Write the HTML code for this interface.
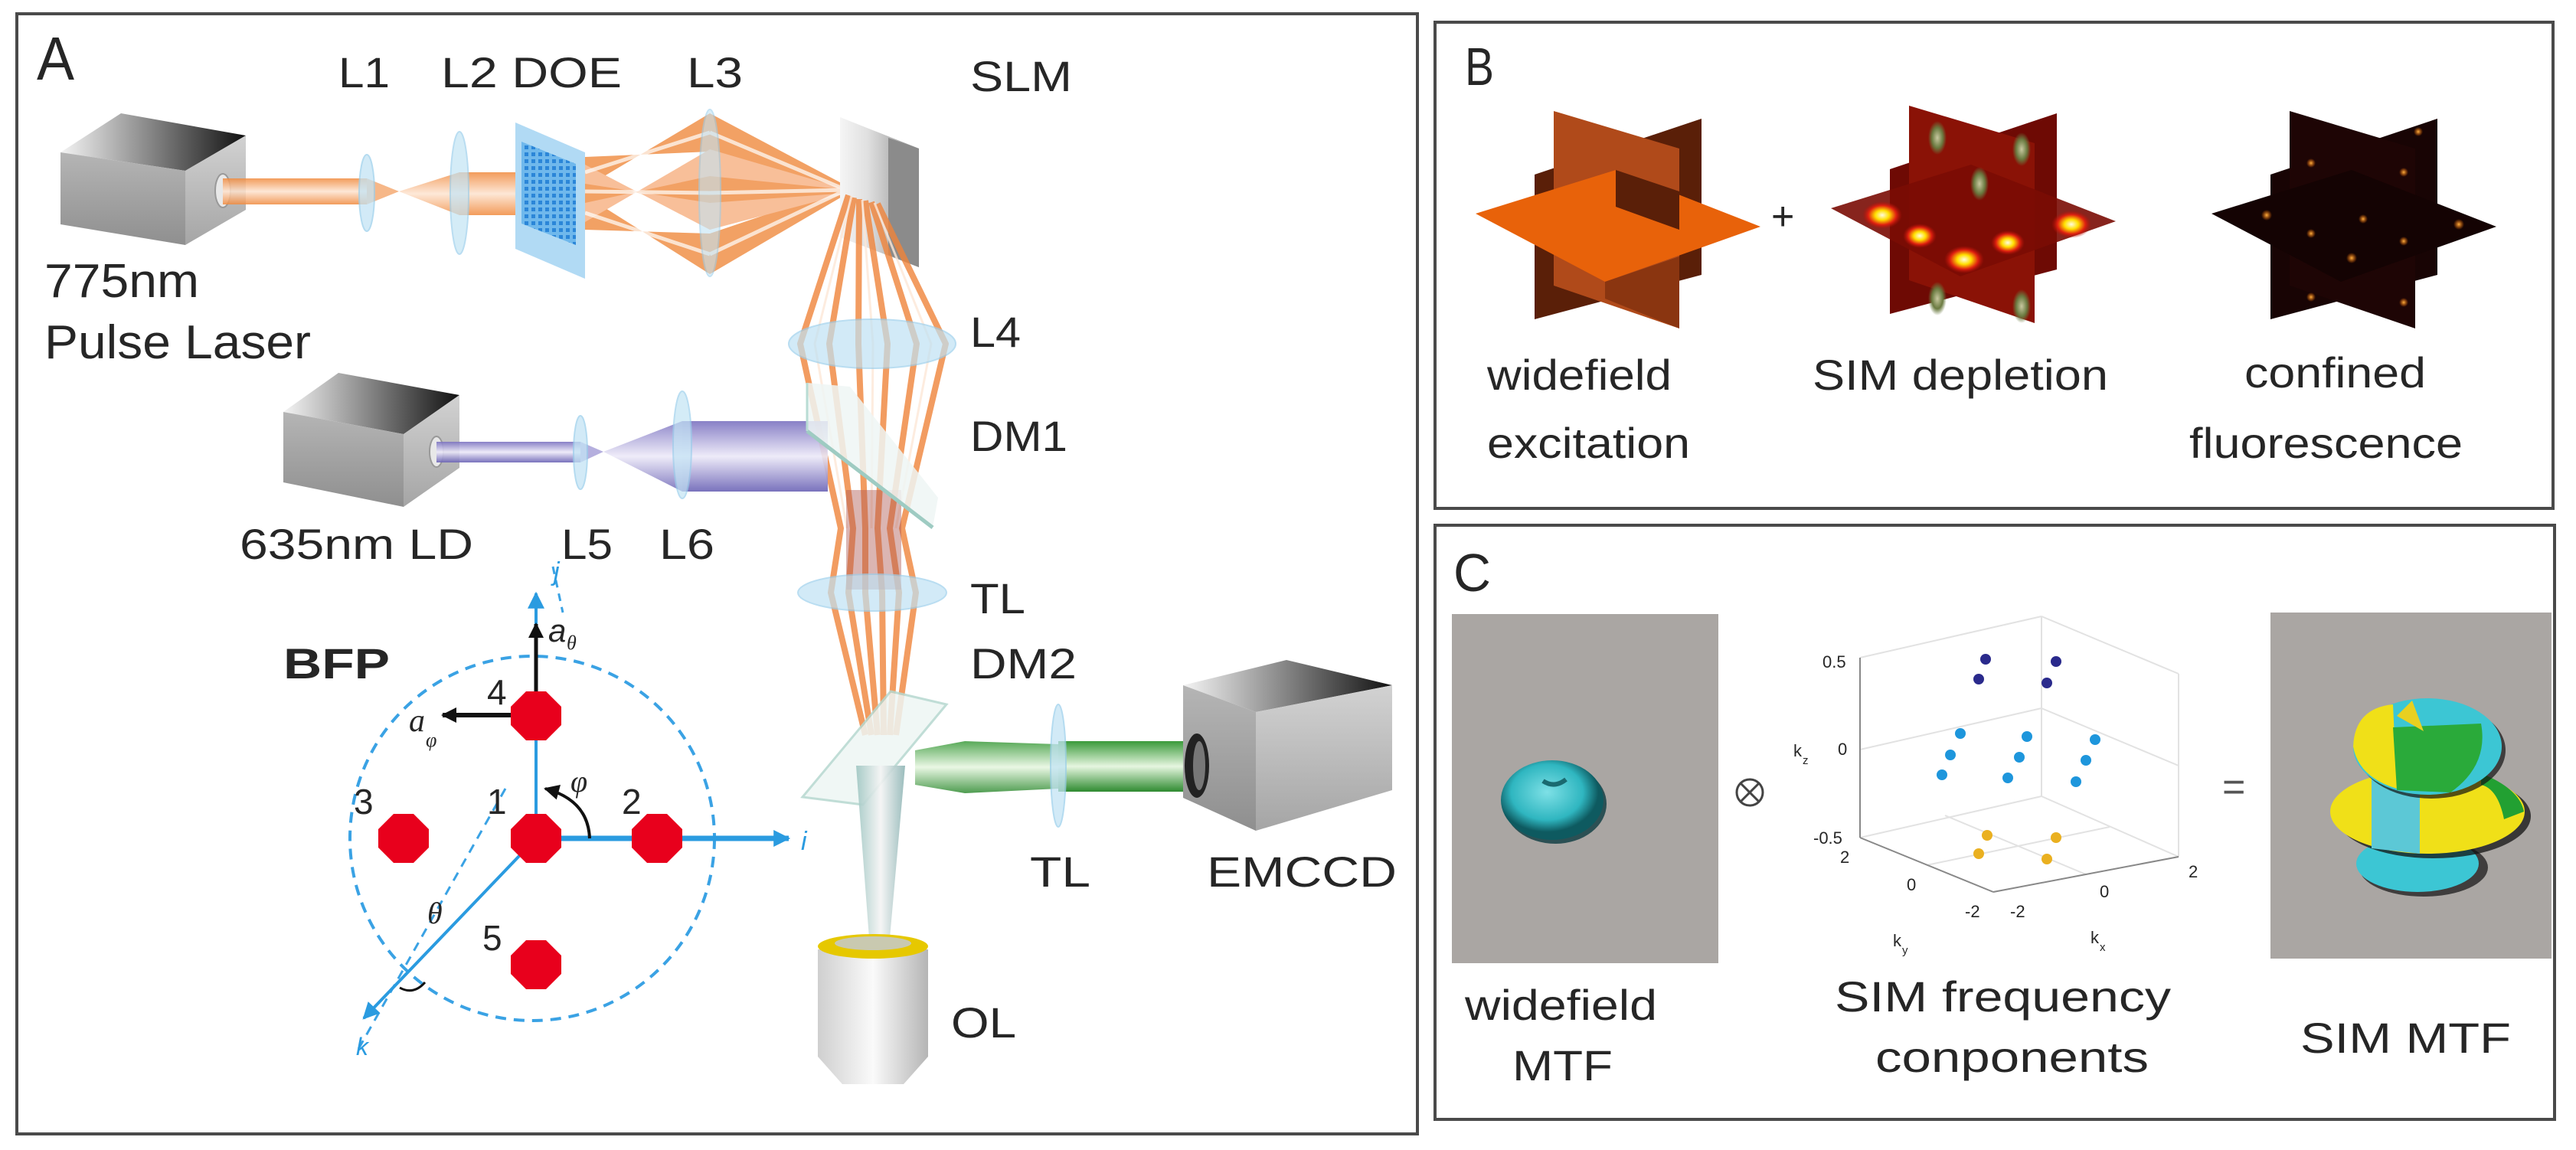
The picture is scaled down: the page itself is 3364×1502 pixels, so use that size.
<!DOCTYPE html>
<html><head><meta charset="utf-8"><style>
html,body{margin:0;padding:0;background:#fff;}
svg{display:block;}
text{font-family:"Liberation Sans",sans-serif;fill:#262626;}
</style></head><body>
<svg width="3364" height="1502" viewBox="0 0 3364 1502" xmlns="http://www.w3.org/2000/svg">
<defs>
<linearGradient id="topg" x1="0" y1="0" x2="1" y2="0"><stop offset="0" stop-color="#f4f4f4"/><stop offset="1" stop-color="#111"/></linearGradient>
<linearGradient id="sideL" x1="0" y1="0" x2="0" y2="1"><stop offset="0" stop-color="#b5b5b5"/><stop offset="1" stop-color="#8f8f8f"/></linearGradient>
<linearGradient id="sideR" x1="0" y1="0" x2="0" y2="1"><stop offset="0" stop-color="#d2d2d2"/><stop offset="1" stop-color="#a5a5a5"/></linearGradient>
<linearGradient id="orB" x1="0" y1="0" x2="0" y2="1"><stop offset="0" stop-color="#f08a3e"/><stop offset="0.5" stop-color="#fde3cf"/><stop offset="1" stop-color="#f08a3e"/></linearGradient>
<linearGradient id="puB" x1="0" y1="0" x2="0" y2="1"><stop offset="0" stop-color="#7b72c0"/><stop offset="0.5" stop-color="#ece9f8"/><stop offset="1" stop-color="#6a62b5"/></linearGradient>
<linearGradient id="grB" x1="0" y1="0" x2="0" y2="1"><stop offset="0" stop-color="#3a9a3a"/><stop offset="0.5" stop-color="#e6f6e0"/><stop offset="1" stop-color="#2e8a30"/></linearGradient>
<linearGradient id="olB" x1="0" y1="0" x2="1" y2="0"><stop offset="0" stop-color="#cfcfcf"/><stop offset="0.5" stop-color="#fafafa"/><stop offset="1" stop-color="#b5b5b5"/></linearGradient>
<linearGradient id="objB" x1="0" y1="0" x2="1" y2="0"><stop offset="0" stop-color="#9fc6c2"/><stop offset="0.5" stop-color="#f4f4f4"/><stop offset="1" stop-color="#8fb5b5"/></linearGradient>
<linearGradient id="slmg" x1="0" y1="0" x2="1" y2="0"><stop offset="0" stop-color="#f5f5f5"/><stop offset="0.35" stop-color="#e0e0e0"/><stop offset="1" stop-color="#8a8a8a"/></linearGradient>
<radialGradient id="blob"><stop offset="0" stop-color="#fffbe0"/><stop offset="0.35" stop-color="#ffe000"/><stop offset="0.7" stop-color="#e02010"/><stop offset="1" stop-color="#b01008" stop-opacity="0"/></radialGradient>
<radialGradient id="gblob"><stop offset="0" stop-color="#c8c8a0"/><stop offset="0.6" stop-color="#6a7a40"/><stop offset="1" stop-color="#6a7a40" stop-opacity="0"/></radialGradient>
<radialGradient id="dot3"><stop offset="0" stop-color="#ffb040"/><stop offset="1" stop-color="#ff7000" stop-opacity="0"/></radialGradient>
<radialGradient id="tor" cx="0.45" cy="0.4"><stop offset="0" stop-color="#7ee0e6"/><stop offset="0.7" stop-color="#2fb6c0"/><stop offset="1" stop-color="#0e5a60"/></radialGradient>
<pattern id="grid" width="9" height="9" patternUnits="userSpaceOnUse"><rect width="9" height="9" fill="#6fb8ec"/><rect x="1" y="1" width="5" height="5" fill="#2b86d8"/></pattern>
<marker id="ab" markerWidth="10" markerHeight="10" refX="8" refY="5" orient="auto" markerUnits="userSpaceOnUse" viewBox="0 0 10 10"><path d="M0,0 L10,5 L0,10 Z" fill="#2a9be0"/></marker>
<marker id="abig" viewBox="0 0 10 10" refX="9" refY="5" markerWidth="26" markerHeight="22" orient="auto" markerUnits="userSpaceOnUse"><path d="M0,0 L10,5 L0,10 Z" fill="#2a9be0"/></marker>
<marker id="ak" viewBox="0 0 10 10" refX="9" refY="5" markerWidth="22" markerHeight="20" orient="auto" markerUnits="userSpaceOnUse"><path d="M0,0 L10,5 L0,10 Z" fill="#111"/></marker>
</defs>

<!-- Panel borders -->
<rect x="22" y="18" width="1829" height="1463" fill="none" stroke="#4a4a4a" stroke-width="4"/>
<rect x="1874" y="29" width="1460" height="635" fill="none" stroke="#4a4a4a" stroke-width="4"/>
<rect x="1874" y="686" width="1462" height="776" fill="none" stroke="#4a4a4a" stroke-width="4"/>

<!-- ===== Panel A ===== -->
<text x="48" y="104" font-size="80" textLength="49" lengthAdjust="spacingAndGlyphs">A</text>

<!-- laser cube 1 -->
<polygon points="79,199 158,148 321,177 242,223" fill="url(#topg)"/>
<polygon points="79,199 242,223 242,320 79,293" fill="url(#sideL)"/>
<polygon points="242,223 321,177 321,274 242,320" fill="url(#sideR)"/>
<ellipse cx="291" cy="249" rx="10" ry="22" fill="#e8e8e8" stroke="#999" stroke-width="2"/>

<!-- orange beam first part -->
<rect x="291" y="233" width="188" height="34" fill="url(#orB)" opacity="0.85"/>
<polygon points="479,233 521,250 479,267" fill="#f4a56a" opacity="0.8"/>
<polygon points="521,250 600,225 600,281" fill="url(#orB)" opacity="0.8"/>
<rect x="600" y="225" width="73" height="56" fill="url(#orB)" opacity="0.85"/>

<!-- fan DOE -> L3 -> SLM -->
<g opacity="0.8">
<polygon points="764,205 764,245 927,148 927,198" fill="#f08a3e"/>
<polygon points="764,230 764,270 927,222 927,282" fill="#f08a3e"/>
<polygon points="764,255 764,300 927,305 927,358" fill="#f08a3e"/>
<polygon points="764,215 764,240 927,265 927,300" fill="#f7b080"/>
<polygon points="764,265 764,290 927,195 927,230" fill="#f7b080"/>
<polygon points="927,148 927,198 1108,252 1108,244" fill="#f08a3e"/>
<polygon points="927,222 927,282 1108,252 1108,244" fill="#f08a3e"/>
<polygon points="927,305 927,358 1108,252 1108,244" fill="#f08a3e"/>
<polygon points="927,265 927,300 1108,252" fill="#f7b080"/>
<polygon points="927,195 927,230 1108,248" fill="#f7b080"/>
</g>
<g stroke="#fff" stroke-width="5" opacity="0.7">
<line x1="764" y1="225" x2="927" y2="173"/><line x1="764" y1="250" x2="927" y2="252"/><line x1="764" y1="278" x2="927" y2="332"/>
<line x1="927" y1="173" x2="1105" y2="248"/><line x1="927" y1="252" x2="1105" y2="248"/><line x1="927" y1="332" x2="1105" y2="248"/>
</g>

<!-- DOE -->
<polygon points="673,160 764,199 764,364 673,325" fill="#a9d6f3" opacity="0.9"/>
<polygon points="681,185 752,214 752,320 681,292" fill="url(#grid)"/>

<!-- SLM -->
<polygon points="1097,153 1200,194 1200,349 1097,310" fill="url(#slmg)"/>
<polygon points="1160,180 1200,194 1200,349 1160,333" fill="#8b8b8b"/>

<!-- beams SLM -> L4 -> TL -> DM2 -->
<g fill="none" stroke="#f0843a" stroke-width="8" opacity="0.8" stroke-linejoin="round">
<polyline points="1108,255 1045,449 1098,690 1085,774 1130,960"/>
<polyline points="1115,258 1083,449 1114,690 1108,774 1138,960"/>
<polyline points="1122,260 1121,449 1130,690 1130,774 1146,960"/>
<polyline points="1130,262 1159,449 1146,690 1152,774 1154,960"/>
<polyline points="1138,264 1197,449 1162,690 1174,774 1162,960"/>
<polyline points="1146,266 1235,449 1178,690 1196,774 1170,960"/>
</g>
<g fill="none" stroke="#fde8d8" stroke-width="3" opacity="0.8">
<polyline points="1112,256 1064,449 1106,690"/>
<polyline points="1126,261 1140,449 1138,690"/>
<polyline points="1142,265 1216,449 1170,690"/>
</g>
<rect x="1105" y="640" width="72" height="130" fill="#b05a55" opacity="0.45"/>

<!-- L4 -->
<ellipse cx="1139" cy="449" rx="109" ry="32" fill="#bfe2f4" opacity="0.7" stroke="#9ccfec" stroke-width="2"/>

<!-- cube 2 (635nm LD) -->
<polygon points="370,538 442,487 600,516 527,567" fill="url(#topg)"/>
<polygon points="370,538 527,567 527,662 370,630" fill="url(#sideL)"/>
<polygon points="527,567 600,516 600,611 527,662" fill="url(#sideR)"/>
<ellipse cx="570" cy="590" rx="9" ry="20" fill="#e8e8e8" stroke="#999" stroke-width="2"/>

<!-- purple beam -->
<rect x="570" y="577" width="188" height="27" fill="url(#puB)" opacity="0.9"/>
<polygon points="758,577 788,590 758,604" fill="#a39bd6" opacity="0.8"/>
<polygon points="788,590 891,550 891,642" fill="url(#puB)" opacity="0.85"/>
<rect x="891" y="550" width="190" height="92" fill="url(#puB)" opacity="0.9"/>

<!-- DM1 -->
<polygon points="1054,500 1110,505 1225,650 1218,689 1054,563" fill="#eef6f4" opacity="0.85"/>
<line x1="1054" y1="563" x2="1218" y2="689" stroke="#9ecbc2" stroke-width="5"/>
<line x1="1054" y1="500" x2="1054" y2="563" stroke="#b8dcd4" stroke-width="3"/>

<!-- L5 L6 L1 L2 L3 -->
<ellipse cx="479" cy="252" rx="10" ry="50" fill="#c3e4f5" opacity="0.75" stroke="#9ccfec" stroke-width="2"/>
<ellipse cx="600" cy="252" rx="12" ry="80" fill="#c3e4f5" opacity="0.7" stroke="#9ccfec" stroke-width="2"/>
<ellipse cx="927" cy="252" rx="14" ry="109" fill="#c3e4f5" opacity="0.6" stroke="#9ccfec" stroke-width="2"/>
<ellipse cx="758" cy="591" rx="9" ry="48" fill="#c3e4f5" opacity="0.75" stroke="#9ccfec" stroke-width="2"/>
<ellipse cx="891" cy="581" rx="12" ry="70" fill="#c3e4f5" opacity="0.7" stroke="#9ccfec" stroke-width="2"/>

<!-- TL -->
<ellipse cx="1139" cy="774" rx="97" ry="24" fill="#bfe2f4" opacity="0.7" stroke="#9ccfec" stroke-width="2"/>

<!-- Green beam to EMCCD -->
<polygon points="1195,980 1260,968 1382,972 1382,1030 1260,1036 1195,1025" fill="url(#grB)" opacity="0.85"/>
<rect x="1382" y="968" width="170" height="66" fill="url(#grB)"/>
<ellipse cx="1382" cy="1000" rx="10" ry="80" fill="#c3e4f5" opacity="0.75" stroke="#9ccfec" stroke-width="2"/>

<!-- EMCCD cube -->
<polygon points="1545,895 1680,862 1818,895 1640,930" fill="url(#topg)" transform="translate(0,0)"/>
<polygon points="1545,895 1640,930 1640,1085 1545,1042" fill="url(#sideL)"/>
<polygon points="1640,930 1818,895 1818,1032 1640,1085" fill="url(#sideR)"/>
<ellipse cx="1563" cy="1000" rx="16" ry="42" fill="#222"/>
<ellipse cx="1566" cy="1000" rx="8" ry="32" fill="#777"/>

<!-- DM2 -->
<polygon points="1163,903 1236,920 1127,1051 1048,1041" fill="#eef6f4" opacity="0.85" stroke="#b6d8d0" stroke-width="3"/>

<!-- beam to objective -->
<polygon points="1118,1000 1182,1000 1162,1225 1135,1225" fill="url(#objB)" opacity="0.9"/>

<!-- objective -->
<path d="M1068,1240 L1212,1240 L1212,1380 L1180,1416 L1100,1416 L1068,1380 Z" fill="url(#olB)"/>
<ellipse cx="1140" cy="1236" rx="72" ry="16" fill="#e6c800"/>
<ellipse cx="1140" cy="1232" rx="50" ry="9" fill="#c9c9b0"/>

<!-- A labels -->
<g font-size="56">
<text x="442" y="114" textLength="67" lengthAdjust="spacingAndGlyphs">L1</text>
<text x="576" y="114" textLength="236" lengthAdjust="spacingAndGlyphs">L2 DOE</text>
<text x="897" y="114" textLength="73" lengthAdjust="spacingAndGlyphs">L3</text>
<text x="1267" y="119" textLength="133" lengthAdjust="spacingAndGlyphs">SLM</text>
<text x="58" y="388" font-size="62" textLength="202" lengthAdjust="spacingAndGlyphs">775nm</text>
<text x="58" y="468" font-size="62" textLength="348" lengthAdjust="spacingAndGlyphs">Pulse Laser</text>
<text x="1267" y="453" textLength="66" lengthAdjust="spacingAndGlyphs">L4</text>
<text x="1267" y="589" textLength="127" lengthAdjust="spacingAndGlyphs">DM1</text>
<text x="313" y="730" textLength="305" lengthAdjust="spacingAndGlyphs">635nm LD</text>
<text x="733" y="730" textLength="67" lengthAdjust="spacingAndGlyphs">L5</text>
<text x="861" y="730" textLength="72" lengthAdjust="spacingAndGlyphs">L6</text>
<text x="1267" y="801" textLength="72" lengthAdjust="spacingAndGlyphs">TL</text>
<text x="1267" y="886" textLength="139" lengthAdjust="spacingAndGlyphs">DM2</text>
<text x="370" y="886" font-weight="bold" textLength="139" lengthAdjust="spacingAndGlyphs">BFP</text>
<text x="1345" y="1158" textLength="79" lengthAdjust="spacingAndGlyphs">TL</text>
<text x="1576" y="1158" textLength="248" lengthAdjust="spacingAndGlyphs">EMCCD</text>
<text x="1242" y="1355" textLength="85" lengthAdjust="spacingAndGlyphs">OL</text>
</g>

<!-- BFP diagram -->
<circle cx="695" cy="1095" r="238" fill="none" stroke="#3aa2e4" stroke-width="4" stroke-dasharray="14,10"/>
<line x1="660" y1="1030" x2="467" y2="1372" stroke="#3aa2e4" stroke-width="3" stroke-dasharray="12,9"/>
<line x1="722" y1="740" x2="735" y2="800" stroke="#3aa2e4" stroke-width="3" stroke-dasharray="10,8"/>
<line x1="700" y1="1095" x2="700" y2="775" stroke="#2a9be0" stroke-width="4" marker-end="url(#abig)"/>
<line x1="700" y1="1095" x2="1030" y2="1095" stroke="#2a9be0" stroke-width="7" marker-end="url(#abig)"/>
<line x1="700" y1="1095" x2="475" y2="1330" stroke="#2a9be0" stroke-width="4" marker-end="url(#abig)"/>
<text x="723" y="758" font-size="34" font-style="italic" fill="#2a9be0" style="fill:#2a9be0">j</text>
<text x="1046" y="1110" font-size="34" font-style="italic" style="fill:#2a9be0">i</text>
<text x="465" y="1378" font-size="32" font-style="italic" style="fill:#2a9be0">k</text>
<!-- black arrows -->
<line x1="700" y1="934" x2="700" y2="815" stroke="#111" stroke-width="5" marker-end="url(#ak)"/>
<line x1="700" y1="934" x2="578" y2="934" stroke="#111" stroke-width="6" marker-end="url(#ak)"/>
<path d="M770,1095 Q768,1045 712,1030" fill="none" stroke="#111" stroke-width="4" marker-end="url(#ak)"/>
<path d="M522,1290 Q540,1300 555,1283" fill="none" stroke="#111" stroke-width="3"/>
<!-- red dots -->
<g fill="#e8001c">
<polygon points="687,903 713,903 733,923 733,947 713,967 687,967 667,947 667,923"/>
<polygon points="687,1063 713,1063 733,1083 733,1107 713,1127 687,1127 667,1107 667,1083"/>
<polygon points="845,1063 871,1063 891,1083 891,1107 871,1127 845,1127 825,1107 825,1083"/>
<polygon points="514,1063 540,1063 560,1083 560,1107 540,1127 514,1127 494,1107 494,1083"/>
<polygon points="687,1228 713,1228 733,1248 733,1272 713,1292 687,1292 667,1272 667,1248"/>
</g>
<g font-size="46">
<text x="636" y="920">4</text>
<text x="462" y="1063">3</text>
<text x="636" y="1063">1</text>
<text x="812" y="1063">2</text>
<text x="630" y="1241">5</text>
</g>
<text x="716" y="838" font-size="42" font-style="italic" font-family="Liberation Serif">a</text>
<text x="740" y="848" font-size="26" font-style="italic" font-family="Liberation Serif" style="font-family:'Liberation Serif',serif">θ</text>
<text x="534" y="955" font-size="42" font-style="italic" style="font-family:'Liberation Serif',serif">a</text>
<text x="556" y="975" font-size="26" font-style="italic" style="font-family:'Liberation Serif',serif">φ</text>
<text x="745" y="1034" font-size="40" font-style="italic" style="font-family:'Liberation Serif',serif">φ</text>
<text x="558" y="1206" font-size="40" font-style="italic" style="font-family:'Liberation Serif',serif">θ</text>

<!-- ===== Panel B ===== -->
<text x="1913" y="111" font-size="70" textLength="38" lengthAdjust="spacingAndGlyphs">B</text>
<g id="star1">
<polygon points="2004,228 2222,155 2222,359 2004,417" fill="#5a1f08"/>
<polygon points="2029,145 2193,194 2193,429 2029,373" fill="#b04a1a"/>
<polygon points="1927,279 2110,222 2299,296 2096,368" fill="#e8620a"/>
<polygon points="2110,222 2193,250 2193,300 2110,270" fill="#5a1f08"/>
<polygon points="2096,368 2193,335 2193,429 2096,390" fill="#8a3510"/>
</g>
<text x="2313" y="300" font-size="52">+</text>
<g transform="translate(464,-7)">
<polygon points="2004,228 2222,155 2222,359 2004,417" fill="#6e0a04"/>
<polygon points="2029,145 2193,194 2193,429 2029,373" fill="#8a1206"/>
<polygon points="1927,279 2110,222 2299,296 2096,368" fill="#7a0c04" opacity="0.9"/>
</g>
<g>
<ellipse cx="2458" cy="281" rx="26" ry="18" fill="url(#blob)"/>
<ellipse cx="2705" cy="293" rx="26" ry="18" fill="url(#blob)"/>
<ellipse cx="2565" cy="339" rx="26" ry="18" fill="url(#blob)"/>
<ellipse cx="2622" cy="317" rx="22" ry="16" fill="url(#blob)"/>
<ellipse cx="2507" cy="308" rx="22" ry="16" fill="url(#blob)"/>
<ellipse cx="2530" cy="180" rx="12" ry="22" fill="url(#gblob)"/>
<ellipse cx="2640" cy="195" rx="12" ry="22" fill="url(#gblob)"/>
<ellipse cx="2530" cy="390" rx="12" ry="22" fill="url(#gblob)"/>
<ellipse cx="2640" cy="400" rx="12" ry="22" fill="url(#gblob)"/>
<ellipse cx="2585" cy="240" rx="12" ry="22" fill="url(#gblob)"/>
</g>
<g transform="translate(961,0)">
<polygon points="2004,228 2222,155 2222,359 2004,417" fill="#180404"/>
<polygon points="2029,145 2193,194 2193,429 2029,373" fill="#1e0505"/>
<polygon points="1927,279 2110,222 2299,296 2096,368" fill="#140303"/>
</g>
<g fill="url(#dot3)">
<circle cx="2960" cy="281" r="7"/><circle cx="3211" cy="293" r="7"/><circle cx="3071" cy="337" r="7"/>
<circle cx="3086" cy="286" r="6"/><circle cx="3018" cy="213" r="6"/><circle cx="3139" cy="225" r="6"/>
<circle cx="3018" cy="305" r="6"/><circle cx="3139" cy="315" r="6"/><circle cx="3018" cy="388" r="6"/>
<circle cx="3139" cy="395" r="6"/><circle cx="3158" cy="172" r="6"/>
</g>
<g font-size="56" style="fill:#333">
<text x="1942" y="509" textLength="241" lengthAdjust="spacingAndGlyphs">widefield</text>
<text x="1942" y="598" textLength="265" lengthAdjust="spacingAndGlyphs">excitation</text>
<text x="2367" y="509" textLength="386" lengthAdjust="spacingAndGlyphs">SIM depletion</text>
<text x="2931" y="506" textLength="237" lengthAdjust="spacingAndGlyphs">confined</text>
<text x="2859" y="598" textLength="357" lengthAdjust="spacingAndGlyphs">fluorescence</text>
</g>

<!-- ===== Panel C ===== -->
<text x="1898" y="772" font-size="70" textLength="49" lengthAdjust="spacingAndGlyphs">C</text>
<rect x="1896" y="802" width="348" height="456" fill="#aaa6a3"/>
<ellipse cx="2031" cy="1050" rx="67" ry="52" fill="#0b3b40" opacity="0.8"/>
<ellipse cx="2027" cy="1045" rx="67" ry="52" fill="url(#tor)"/>
<path d="M2015,1020 Q2030,1030 2045,1018" stroke="#1a6a70" stroke-width="6" fill="none"/>

<circle cx="2285" cy="1035" r="17" fill="none" stroke="#444" stroke-width="3"/>
<line x1="2273" y1="1023" x2="2297" y2="1047" stroke="#444" stroke-width="3"/>
<line x1="2297" y1="1023" x2="2273" y2="1047" stroke="#444" stroke-width="3"/>

<!-- 3D plot -->
<g stroke="#e2e2e2" stroke-width="2" fill="none">
<line x1="2666" y1="805" x2="2666" y2="1040"/>
<line x1="2429" y1="859" x2="2666" y2="805"/>
<line x1="2666" y1="805" x2="2845" y2="880"/>
<line x1="2845" y1="880" x2="2845" y2="1119"/>
<line x1="2429" y1="979" x2="2666" y2="925"/><line x1="2666" y1="925" x2="2845" y2="1000"/>
<line x1="2666" y1="1040" x2="2845" y2="1119"/><line x1="2666" y1="1040" x2="2429" y2="1094"/>
<line x1="2516" y1="1130" x2="2755" y2="1080"/><line x1="2724" y1="1142" x2="2540" y2="1065"/>
</g>
<g stroke="#888" stroke-width="2" fill="none">
<line x1="2429" y1="859" x2="2429" y2="1094"/>
<line x1="2429" y1="1094" x2="2603" y2="1165"/>
<line x1="2603" y1="1165" x2="2845" y2="1119"/>
</g>
<g font-size="22" style="fill:#444">
<text x="2380" y="872">0.5</text>
<text x="2400" y="986">0</text>
<text x="2368" y="1102">-0.5</text>
<text x="2403" y="1127">2</text>
<text x="2490" y="1163">0</text>
<text x="2566" y="1198">-2</text>
<text x="2625" y="1198">-2</text>
<text x="2742" y="1172">0</text>
<text x="2858" y="1146">2</text>
<text x="2472" y="1236">k</text><text x="2484" y="1246" font-size="15">y</text>
<text x="2730" y="1232">k</text><text x="2742" y="1242" font-size="15">x</text>
<text x="2342" y="988">k</text><text x="2354" y="998" font-size="15">z</text>
</g>
<g fill="#2a2a8c">
<circle cx="2593" cy="861" r="7"/><circle cx="2685" cy="864" r="7"/><circle cx="2584" cy="887" r="7"/><circle cx="2673" cy="892" r="7"/>
</g>
<g fill="#1e96dc">
<circle cx="2560" cy="958" r="7"/><circle cx="2647" cy="962" r="7"/><circle cx="2736" cy="966" r="7"/>
<circle cx="2547" cy="986" r="7"/><circle cx="2637" cy="989" r="7"/><circle cx="2724" cy="993" r="7"/>
<circle cx="2536" cy="1012" r="7"/><circle cx="2622" cy="1016" r="7"/><circle cx="2711" cy="1021" r="7"/>
</g>
<g fill="#eab020">
<circle cx="2595" cy="1091" r="7"/><circle cx="2685" cy="1094" r="7"/><circle cx="2584" cy="1115" r="7"/><circle cx="2673" cy="1122" r="7"/>
</g>

<text x="2902" y="1045" font-size="52" style="fill:#555">=</text>

<rect x="2965" y="800" width="367" height="452" fill="#aaa6a3"/>
<!-- SIM MTF blob -->
<ellipse cx="3165" cy="1133" rx="84" ry="38" fill="#111" opacity="0.7"/>
<ellipse cx="3157" cy="1128" rx="80" ry="37" fill="#3cc6d4"/>
<ellipse cx="3178" cy="1066" rx="127" ry="55" fill="#111" opacity="0.75"/>
<ellipse cx="3170" cy="1060" rx="127" ry="55" fill="#f0e018"/>
<path d="M3097,1015 L3160,1020 L3160,1115 L3097,1108 Z" fill="#5cc8d6"/>
<path d="M3240,1010 Q3290,1030 3296,1060 L3270,1070 Q3262,1030 3240,1025 Z" fill="#22a032"/>
<ellipse cx="3175" cy="980" rx="97" ry="63" fill="#111" opacity="0.7"/>
<ellipse cx="3170" cy="975" rx="97" ry="63" fill="#3cc6d4"/>
<path d="M3073,975 Q3075,925 3125,920 L3130,1030 Q3080,1015 3073,975 Z" fill="#f0e018"/>
<path d="M3125,950 L3240,945 Q3250,1000 3200,1035 L3130,1032 Z" fill="#2aaa3a"/>
<path d="M3130,935 L3165,955 L3150,915 Z" fill="#e8d020"/>

<g font-size="56" style="fill:#333">
<text x="1913" y="1332" textLength="251" lengthAdjust="spacingAndGlyphs">widefield</text>
<text x="1975" y="1411" textLength="131" lengthAdjust="spacingAndGlyphs">MTF</text>
<text x="2396" y="1321" textLength="439" lengthAdjust="spacingAndGlyphs">SIM frequency</text>
<text x="2449" y="1400" textLength="357" lengthAdjust="spacingAndGlyphs">conponents</text>
<text x="3004" y="1375" textLength="275" lengthAdjust="spacingAndGlyphs">SIM MTF</text>
</g>
</svg>
</body></html>
